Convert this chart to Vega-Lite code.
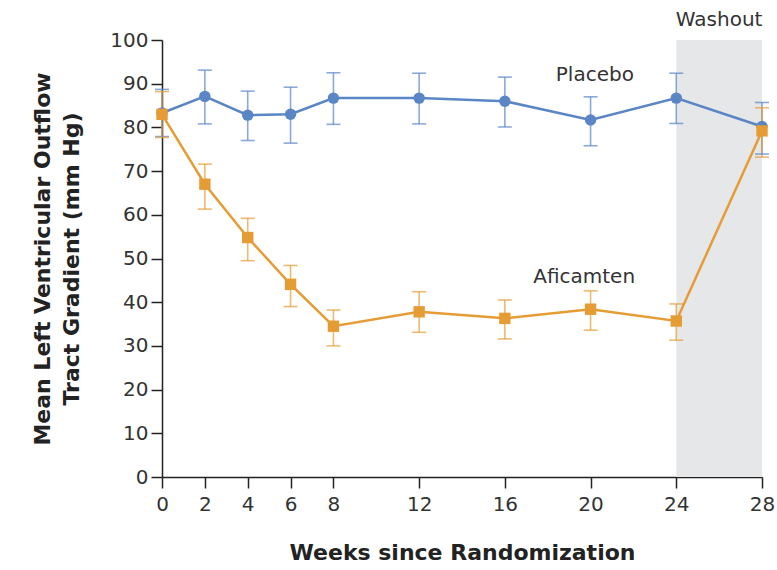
{
  "$schema": "https://vega.github.io/schema/vega-lite/v6.json",
  "autosize": {"type": "none"},
  "width": 600,
  "height": 437,
  "padding": {"left": 162, "top": 40, "right": 15, "bottom": 93},
  "background": "white",
  "config": {
    "view": {"stroke": null},
    "font": "DejaVu Sans",
    "axis": {
      "domainColor": "#222",
      "tickColor": "#222",
      "domainWidth": 1.5,
      "tickWidth": 1.5,
      "tickSize": 11,
      "labelFontSize": 20,
      "labelColor": "#333",
      "labelFont": "DejaVu Sans",
      "labelFlush": false,
      "titleFont": "DejaVu Sans",
      "titleFontSize": 22,
      "titleFontWeight": "bold",
      "titleColor": "#222",
      "grid": false
    }
  },
  "datasets": {
    "series": [
      {"week": 0, "group": "Placebo", "mean": 83.3, "lo": 77.9, "hi": 88.7},
      {"week": 2, "group": "Placebo", "mean": 87.1, "lo": 80.8, "hi": 93.1},
      {"week": 4, "group": "Placebo", "mean": 82.8, "lo": 77.0, "hi": 88.3},
      {"week": 6, "group": "Placebo", "mean": 83.0, "lo": 76.4, "hi": 89.2},
      {"week": 8, "group": "Placebo", "mean": 86.7, "lo": 80.7, "hi": 92.5},
      {"week": 12, "group": "Placebo", "mean": 86.7, "lo": 80.8, "hi": 92.4},
      {"week": 16, "group": "Placebo", "mean": 86.0, "lo": 80.1, "hi": 91.5},
      {"week": 20, "group": "Placebo", "mean": 81.7, "lo": 75.8, "hi": 87.0},
      {"week": 24, "group": "Placebo", "mean": 86.7, "lo": 80.9, "hi": 92.4},
      {"week": 28, "group": "Placebo", "mean": 80.2, "lo": 73.9, "hi": 85.7},
      {"week": 0, "group": "Aficamten", "mean": 83.0, "lo": 77.7, "hi": 88.2},
      {"week": 2, "group": "Aficamten", "mean": 67.0, "lo": 61.3, "hi": 71.6},
      {"week": 4, "group": "Aficamten", "mean": 54.8, "lo": 49.5, "hi": 59.2},
      {"week": 6, "group": "Aficamten", "mean": 44.1, "lo": 39.0, "hi": 48.4},
      {"week": 8, "group": "Aficamten", "mean": 34.5, "lo": 30.0, "hi": 38.2},
      {"week": 12, "group": "Aficamten", "mean": 37.8, "lo": 33.1, "hi": 42.4},
      {"week": 16, "group": "Aficamten", "mean": 36.3, "lo": 31.6, "hi": 40.5},
      {"week": 20, "group": "Aficamten", "mean": 38.4, "lo": 33.6, "hi": 42.6},
      {"week": 24, "group": "Aficamten", "mean": 35.7, "lo": 31.3, "hi": 39.6},
      {"week": 28, "group": "Aficamten", "mean": 79.2, "lo": 73.2, "hi": 84.5}
    ],
    "labels": [
      {"week": 20.2, "val": 92, "label": "Placebo"},
      {"week": 19.7, "val": 45.8, "label": "Aficamten"}
    ],
    "washout": [
      {"start": 24, "end": 28, "low": 0, "high": 100, "label": "Washout", "mid": 26}
    ]
  },
  "layer": [
    {
      "data": {"name": "washout"},
      "mark": {"type": "rect", "color": "#e6e7e9"},
      "encoding": {
        "x": {"field": "start", "type": "quantitative", "scale": {"domain": [0, 28], "nice": false},
          "axis": {"values": [0, 2, 4, 6, 8, 12, 16, 20, 24, 28], "title": "Weeks since Randomization", "titlePadding": 28, "labelPadding": 6}},
        "x2": {"field": "end"},
        "y": {"field": "low", "type": "quantitative", "scale": {"domain": [0, 100], "nice": false},
          "axis": {"values": [0, 10, 20, 30, 40, 50, 60, 70, 80, 90, 100], "title": ["Mean Left Ventricular Outflow", "Tract Gradient (mm Hg)"], "titlePadding": 26, "titleLineHeight": 29, "labelPadding": 3}},
        "y2": {"field": "high"}
      }
    },
    {
      "data": {"name": "washout"},
      "mark": {"type": "text", "fontSize": 20, "color": "#333", "font": "DejaVu Sans", "dy": -20, "baseline": "middle"},
      "encoding": {
        "x": {"field": "mid", "type": "quantitative"},
        "y": {"field": "high", "type": "quantitative"},
        "text": {"field": "label"}
      }
    },
    {
      "data": {"name": "series"},
      "mark": {"type": "rule", "strokeWidth": 1.6, "opacity": 0.7},
      "encoding": {
        "x": {"field": "week", "type": "quantitative"},
        "y": {"field": "lo", "type": "quantitative"},
        "y2": {"field": "hi"},
        "color": {"field": "group", "type": "nominal", "scale": {"domain": ["Placebo", "Aficamten"], "range": ["#5a86c6", "#e69c35"]}, "legend": null}
      }
    },
    {
      "data": {"name": "series"},
      "mark": {"type": "tick", "orient": "horizontal", "size": 14, "thickness": 1.6, "opacity": 0.7},
      "encoding": {
        "x": {"field": "week", "type": "quantitative"},
        "y": {"field": "lo", "type": "quantitative"},
        "color": {"field": "group", "type": "nominal", "legend": null}
      }
    },
    {
      "data": {"name": "series"},
      "mark": {"type": "tick", "orient": "horizontal", "size": 14, "thickness": 1.6, "opacity": 0.7},
      "encoding": {
        "x": {"field": "week", "type": "quantitative"},
        "y": {"field": "hi", "type": "quantitative"},
        "color": {"field": "group", "type": "nominal", "legend": null}
      }
    },
    {
      "data": {"name": "series"},
      "mark": {"type": "line", "strokeWidth": 2.5},
      "encoding": {
        "x": {"field": "week", "type": "quantitative"},
        "y": {"field": "mean", "type": "quantitative"},
        "color": {"field": "group", "type": "nominal", "legend": null},
        "order": {"field": "week"}
      }
    },
    {
      "data": {"name": "series"},
      "mark": {"type": "point", "filled": true, "opacity": 1, "size": 130},
      "encoding": {
        "x": {"field": "week", "type": "quantitative"},
        "y": {"field": "mean", "type": "quantitative"},
        "color": {"field": "group", "type": "nominal", "legend": null},
        "shape": {"field": "group", "type": "nominal", "scale": {"domain": ["Placebo", "Aficamten"], "range": ["circle", "square"]}, "legend": null}
      }
    },
    {
      "data": {"name": "labels"},
      "mark": {"type": "text", "fontSize": 20, "color": "#333", "font": "DejaVu Sans", "baseline": "middle", "align": "center"},
      "encoding": {
        "x": {"field": "week", "type": "quantitative"},
        "y": {"field": "val", "type": "quantitative"},
        "text": {"field": "label"}
      }
    }
  ]
}
